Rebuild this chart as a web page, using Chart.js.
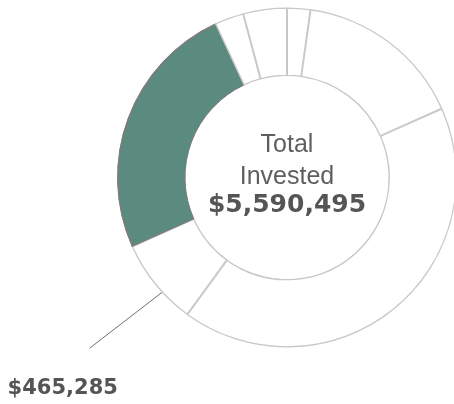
<!DOCTYPE html>
<html>
<head>
<meta charset="utf-8">
<script src="https://cdn.jsdelivr.net/npm/chart.js@4.4.1/dist/chart.umd.min.js"></script>
<style>
    html, body { margin: 0; padding: 0; background: #fff; overflow: hidden; }
    #wrap { width: 454px; height: 404px; overflow: hidden; position: relative; }
    canvas { position: absolute; left: 0; top: 0; }
</style>
</head>
<body>
<div id="wrap"><canvas id="chart" width="574" height="404"></canvas></div>
<script>
    const segmentLabels = ['Holding 1', 'Holding 2', 'Holding 3', 'Holding 4', 'Holding 5', 'Holding 6', 'Holding 7'];
    const investedValues = [124233, 900691, 2329962, 465285, 1382095, 155292, 232937];
    const fillColors = ['#ffffff', '#ffffff', '#ffffff', '#ffffff', '#5b8b7f', '#ffffff', '#ffffff'];
    const edgeColors = ['#c8c8c8', '#c8c8c8', '#c8c8c8', '#c8c8c8', '#7d7d7d', '#c8c8c8', '#c8c8c8'];
    const calloutIndex = 3;

    const money = n => '$' + n.toLocaleString('en-US');
    const total = investedValues.reduce((a, b) => a + b, 0);

    const centerText = {
        id: 'centerText',
        afterDraw(chart) {
            const ctx = chart.ctx;
            const arc = chart.getDatasetMeta(0).data[0];
            const cx = arc.x, cy = arc.y;
            ctx.save();
            ctx.textAlign = 'center';
            ctx.textBaseline = 'alphabetic';
            ctx.fillStyle = '#5f5f5f';
            ctx.font = '25px "Liberation Sans", Arial, sans-serif';
            ctx.fillText('Total', cx, cy - 26);
            ctx.fillText('Invested', cx, cy + 6);
            ctx.fillStyle = '#555555';
            ctx.font = 'bold 25px "DejaVu Sans", sans-serif';
            ctx.fillText(money(total), cx, cy + 34);

            // leader line + label for the called-out slice
            const el = chart.getDatasetMeta(0).data[calloutIndex];
            const a = el.startAngle + 0.38 * (el.endAngle - el.startAngle);
            const r0 = el.outerRadius;
            const x0 = el.x + Math.cos(a) * r0, y0 = el.y + Math.sin(a) * r0;
            const x1 = el.x + Math.cos(a + 0.03) * (r0 + 91), y1 = el.y + Math.sin(a + 0.03) * (r0 + 91);
            ctx.strokeStyle = '#6e6e6e';
            ctx.lineWidth = 1;
            ctx.beginPath();
            ctx.moveTo(x0, y0);
            ctx.lineTo(x1, y1);
            ctx.stroke();
            ctx.textAlign = 'left';
            ctx.fillStyle = '#555555';
            ctx.font = 'bold 21px "DejaVu Sans", sans-serif';
            ctx.fillText(money(investedValues[calloutIndex]), x1 - 82, y1 + 46);
            ctx.restore();
        }
    };

    new Chart(document.getElementById('chart'), {
        type: 'doughnut',
        data: {
            labels: segmentLabels,
            datasets: [{
                data: investedValues,
                backgroundColor: fillColors,
                borderColor: edgeColors,
                borderWidth: 1,
                borderAlign: 'inner',
            }],
        },
        options: {
            responsive: false,
            animation: false,
            radius: 170,
            cutout: 106,
            layout: { padding: { bottom: 49 } },
            plugins: {
                legend: { display: false },
                tooltip: { enabled: false },
            },
        },
        plugins: [centerText],
    });
</script>
</body>
</html>
